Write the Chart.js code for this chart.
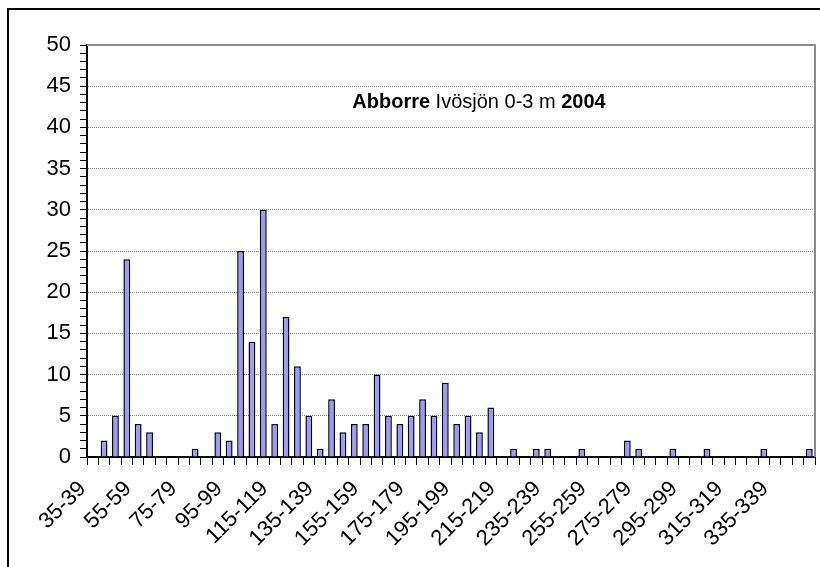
<!DOCTYPE html>
<html>
<head>
<meta charset="utf-8">
<script src="https://cdn.jsdelivr.net/npm/chart.js@4"></script>
<style>
  html, body { margin: 0; padding: 0; background: #fff; }
  #wrap { width: 820px; height: 567px; position: relative; }
</style>
</head>
<body>
<div id="wrap"><canvas id="lengthChart" width="820" height="567"></canvas></div>
<script>
// längdklasser (mm), 5 mm breda
const lengthClasses = [];
for (let lo = 35; lo <= 350; lo += 5) lengthClasses.push(lo + '-' + (lo + 4));

// antal fångade abborrar per längdklass
const counts = [
  0, 2, 5, 24, 4, 3, 0, 0, 0, 1,
  0, 3, 2, 25, 14, 30, 4, 17, 11, 5,
  1, 7, 3, 4, 4, 10, 5, 4, 5, 7,
  5, 9, 4, 5, 3, 6, 0, 1, 0, 1,
  1, 0, 0, 1, 0, 0, 0, 2, 1, 0,
  0, 1, 0, 0, 1, 0, 0, 0, 0, 1,
  0, 0, 0, 1
];

// etiketter som visas på x-axeln
const shownLabels = ['35-39', '55-59', '75-79', '95-99', '115-119', '135-139', '155-159', '175-179',
  '195-199', '215-219', '235-239', '255-259', '275-279', '295-299', '315-319', '335-339'];

const yMin = 0, yMax = 50;
const fontFamily = "'Liberation Sans', Arial, sans-serif";

// ram runt diagrammet, plottytans kant och titel
const framePlugin = {
  id: 'frame',
  beforeDraw(chart) {
    const ctx = chart.ctx;
    ctx.save();
    ctx.fillStyle = '#fff';
    ctx.fillRect(0, 0, chart.width, chart.height);
    ctx.strokeStyle = '#000';
    ctx.lineWidth = 2;
    ctx.strokeRect(8, 9, 900, 700);
    ctx.restore();
  },
  afterDraw(chart) {
    const ctx = chart.ctx;
    const a = chart.chartArea;
    ctx.save();
    ctx.strokeStyle = '#8a8a8a';
    ctx.lineWidth = 2;
    ctx.beginPath();
    ctx.moveTo(a.left, a.top);
    ctx.lineTo(a.right, a.top);
    ctx.lineTo(a.right, a.bottom);
    ctx.stroke();

    // titel: Abborre (fet) Ivösjön 0-3 m (normal) 2004 (fet)
    const parts = [
      ['bold', 'Abborre '],
      ['normal', 'Ivösjön 0-3 m '],
      ['bold', '2004']
    ];
    let total = 0;
    parts.forEach(p => {
      ctx.font = p[0] + ' 20px ' + fontFamily;
      total += ctx.measureText(p[1]).width;
    });
    let x = 479 - total / 2;
    ctx.fillStyle = '#000';
    ctx.textBaseline = 'middle';
    parts.forEach(p => {
      ctx.font = p[0] + ' 20px ' + fontFamily;
      ctx.fillText(p[1], x, 102);
      x += ctx.measureText(p[1]).width;
    });
    ctx.restore();
  }
};

const config = {
  type: 'bar',
  data: {
    labels: lengthClasses,
    datasets: [{
      data: counts,
      backgroundColor: '#9999FF',
      borderColor: '#000',
      borderWidth: 1.5,
      categoryPercentage: 1,
      barPercentage: 0.6
    }]
  },
  options: {
    responsive: false,
    animation: false,
    layout: { padding: { left: 0, right: 5, top: 45, bottom: 0 } },
    plugins: { legend: { display: false }, tooltip: { enabled: false }, title: { display: false } },
    scales: {
      x: {
        grid: { offset: true, drawOnChartArea: false, tickLength: 8, color: '#000', tickColor: '#000' },
        border: { color: '#000', width: 2 },
        ticks: {
          autoSkip: false,
          minRotation: 45,
          maxRotation: 45,
          padding: 11,
          labelOffset: -10,
          color: '#000',
          font: { family: fontFamily, size: 22 },
          callback: function (v, i) {
            const lab = lengthClasses[i];
            return shownLabels.includes(lab) ? lab : '';
          }
        },
        afterFit: s => { s.height = 110; s.paddingLeft = 0; s.paddingRight = 0; }
      },
      y: {
        min: yMin,
        max: yMax,
        grid: {
          color: c => (c.tick && c.tick.value % 5 === 0) ? '#808080' : 'rgba(0,0,0,0)',
          tickColor: '#000',
          tickLength: 7,
          lineWidth: 1
        },
        border: { color: '#000', width: 2, dash: [1, 1] },
        ticks: {
          stepSize: 1,
          autoSkip: false,
          padding: 9,
          color: '#000',
          font: { family: fontFamily, size: 22 },
          callback: v => (v % 5 === 0 ? v : '')
        },
        afterFit: s => { s.width = 87; }
      }
    }
  },
  plugins: [framePlugin]
};

const lengthChart = new Chart(document.getElementById('lengthChart'), config);
</script>
</body>
</html>
